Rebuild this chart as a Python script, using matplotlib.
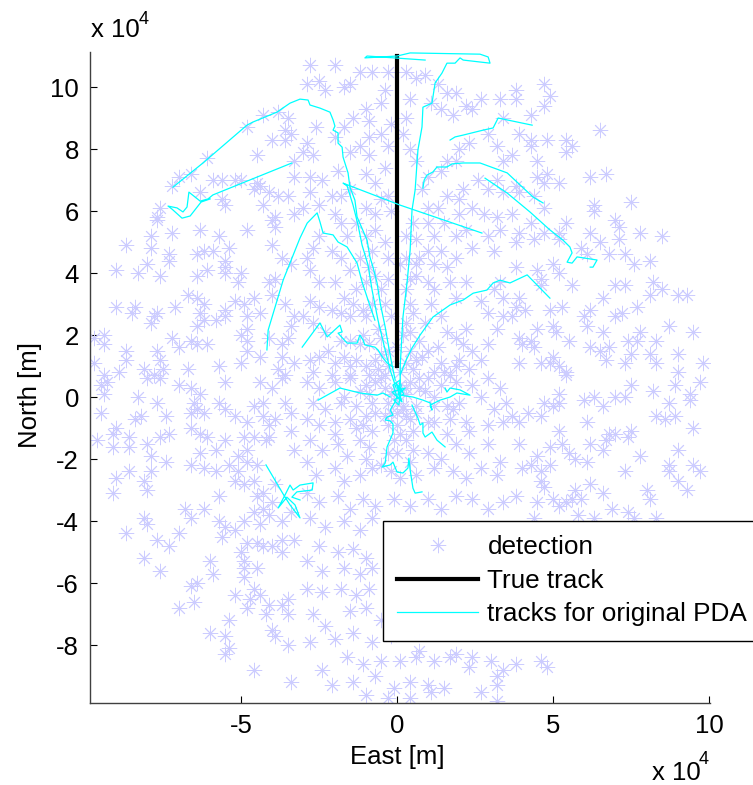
import matplotlib
matplotlib.use('Agg')
import matplotlib.pyplot as plt
from matplotlib.ticker import FixedLocator, FuncFormatter

plt.rcParams['font.family'] = ['Liberation Sans', 'DejaVu Sans']

SCALE = 1e4  # all values below are in units of 10^4 m (east, north)

# detections
det_nw = [(-4.3,9.1),(-3.8,9.2),(-3.5,9.0),(-3.6,8.6),(-4.0,8.3),(-3.6,8.3),(-3.4,8.5),(-4.8,8.7),(-4.5,7.8),(-6.1,7.7),
          (-3.3,7.6),(-3.3,7.1),(-7.0,7.1),(-6.6,7.2),(-7.2,6.8),(-5.9,7.0),(-5.6,7.0),(-5.2,7.0),(-5.0,7.0),(-4.5,6.9),
          (-4.4,6.8),(-4.6,6.7),(-4.1,6.6),(-3.8,6.5),(-3.5,6.5),(-5.6,6.4),(-5.5,6.2),(-6.3,6.6),(-7.6,6.1),(-7.7,5.8),
          (-7.7,5.7),(-3.3,5.9),(-3.9,5.8),(-4.0,5.7),(-3.9,5.5),(-4.3,6.2),(-4.8,5.4),(-6.3,5.4),(-5.7,5.2),(-7.2,5.3),
          (-7.9,5.2),(-8.7,4.9),(-7.9,4.8),(-7.3,4.6),(-7.3,4.4),(-6.4,4.6),(-6.2,4.7),(-5.9,4.7),(-5.4,4.8),(-5.5,4.4),
          (-5.5,4.2),(-5.5,4.0),(-6.1,4.1),(-6.4,3.9),(-5.0,4.0),(-5.1,3.7),(-4.0,4.9),(-3.7,4.5),(-3.4,4.3),(-8.0,4.3),
          (-8.3,4.0),(-9.0,4.1),(-7.6,3.9),(-6.7,3.3),(-6.4,3.2),(-6.2,3.0),(-6.3,2.7),(-6.2,2.5),(-6.4,2.3),(-5.8,2.5),
          (-5.5,2.6),(-5.2,3.1),(-5.5,2.8),(-4.9,3.0),(-4.8,2.6),(-4.6,3.2),(-4.1,3.7),(-3.9,3.8),(-4.0,3.3),(-3.6,3.0),
          (-4.4,2.7),(-4.8,2.2),(-5.0,2.0),(-4.8,1.8),(-3.4,2.3),(-3.5,1.9),(-3.3,2.6),(-4.1,1.9),(-3.7,1.7),(-7.2,1.9),
          (-6.6,1.8),(-6.4,1.7),(-6.1,1.7),(-7.0,1.6),(-7.7,2.7),(-7.8,2.6),(-7.9,2.4),(-8.4,2.9),(-8.5,2.7),(-9.0,2.9),
          (-7.1,2.9),(-9.4,2.0),(-9.4,1.7),(-9.7,1.9),(-8.7,1.5),(-8.7,1.2),(-7.7,1.5),(-7.6,1.2),(-7.5,0.9),(-7.8,0.7),
          (-8.1,0.9),(-8.9,0.8),(-9.4,0.7),(-9.7,1.1),(-6.7,0.9),(-5.7,1.0),(-5.0,1.1),(-4.8,1.5),(-4.4,1.3),(-3.7,1.3),
          (-3.8,0.9),(-3.6,0.7),(-3.3,1.1)]

det_n = [(-2.8,10.7),(-2.0,10.7),(-2.5,10.2),(-2.9,10.1),(-2.3,9.9),(-1.7,10.0),(-1.5,10.1),(-1.2,10.5),(-0.8,10.5),(-0.3,10.5),
         (0.3,10.5),(0.6,10.3),(0.9,10.4),(1.3,10.1),(1.6,9.8),(1.9,9.8),(1.1,9.5),(1.4,9.3),(1.8,9.1),(2.2,9.4),
         (2.4,9.3),(2.7,9.6),(3.3,9.6),(3.4,9.0),(2.9,8.5),(2.3,8.2),(2.0,8.0),(1.6,7.6),(1.4,7.3),(1.9,7.6),
         (3.2,8.1),(3.4,7.6),(3.2,7.0),(3.4,6.6),(2.9,6.7),(2.6,7.0),(2.1,6.7),(2.0,6.4),(1.6,6.5),(1.3,6.1),
         (1.0,6.1),(0.8,6.7),(1.0,7.1),(0.6,7.6),(0.4,8.0),(0.2,8.5),(0.3,9.0),(0.4,9.6),(-0.4,9.9),(-0.5,9.5),
         (-1.0,9.3),(-0.9,8.9),(-1.4,9.0),(-1.7,8.7),(-2.0,8.4),(-2.6,8.7),(-2.9,8.2),(-3.0,7.9),(-2.7,7.8),(-2.8,7.1),
         (-2.4,7.0),(-1.9,7.3),(-1.5,7.9),(-1.2,8.1),(-0.9,7.8),(-1.0,7.2),(-0.7,6.9),(-0.4,7.4),(-0.3,8.1),(-0.5,8.5),
         (-0.9,8.4),(-0.2,8.8),(-1.5,6.7),(-1.8,6.5),(-2.1,6.5),(-2.5,6.2),(-2.8,6.6),(-3.0,6.1),(-2.0,5.9),(-1.8,5.6),
         (-1.6,5.2),(-1.3,5.6),(-1.0,6.1),(-0.7,5.9),(-0.5,6.4),(-0.3,6.5),(-0.2,6.0),(-0.7,5.4),(-1.0,5.2),(-0.4,5.0),
         (-0.3,4.5),(-0.8,4.7),(-1.2,4.5),(-0.9,4.2),(-0.7,3.9),(-0.3,3.8),(-0.5,3.5),(-1.0,3.7),(-1.3,3.5),(-1.5,4.1),
         (-1.8,4.5),(-2.1,4.7),(-2.5,5.2),(-2.7,4.8),(-2.9,4.5),(-2.8,4.1),(-2.5,3.7),(-2.0,3.7),(-1.7,3.2),(-1.4,3.0),
         (-1.1,2.8),(-0.8,3.0),(-0.4,3.0),(-0.2,2.6),(-1.0,2.6),(-1.5,2.6),(-1.8,2.7),(-2.1,2.8),(-2.5,2.9),(-2.8,3.1),
         (-3.0,2.6),(-2.7,2.4),(-2.3,2.1),(-1.8,1.8),(-1.5,1.8),(-1.2,1.7),(-0.9,1.7),(-0.5,1.9),(-0.3,1.5),(-0.7,1.2),
         (-0.3,1.0),(-1.0,1.0),(-1.3,1.2),(-1.7,1.3),(-2.0,1.1),(-2.5,1.3),(-2.8,1.2),(-2.7,0.8),(-2.1,0.7),(-1.5,0.7),
         (-0.9,0.7),(-0.4,0.7),(0.1,0.8),(0.3,1.1),(0.4,1.5),(0.6,1.2),(1.0,1.5),(0.7,1.8),(0.4,2.1),(0.3,2.4),
         (0.5,2.7),(0.4,3.0),(0.3,3.5),(0.4,3.8),(0.6,3.9),(1.0,3.7),(1.2,3.5),(1.1,3.0),(1.4,2.6),(1.6,2.1),
         (1.9,1.9),(2.2,2.2),(2.1,1.7),(2.4,1.5),(2.7,1.2),(2.3,0.9),(1.9,1.0),(1.4,1.1),(1.2,0.8),(1.7,0.7),
         (2.9,1.7),(3.2,2.2),(3.4,2.6),(2.9,2.7),(2.7,3.1),(3.1,3.5),(3.3,3.7),(3.4,3.2),(2.2,3.7),(1.9,3.2),
         (1.7,3.7),(1.6,4.2),(1.9,4.5),(1.4,4.7),(1.2,4.3),(1.0,4.7),(0.6,5.1),(0.3,5.2),(0.5,5.6),(1.0,5.6),
         (1.2,5.2),(1.5,5.6),(1.9,5.2),(2.2,5.4),(2.4,4.8),(2.9,5.2),(3.1,4.7),(3.3,5.4),(3.2,5.8),(2.8,5.9),
         (2.4,6.1),(2.0,5.9),(0.7,4.5),(0.6,4.3),(0.1,4.3),(0.3,4.5)]

det_ne = [(4.7,10.1),(3.8,9.9),(3.8,9.6),(4.9,9.7),(4.7,9.4),(4.3,9.1),(3.9,8.5),(4.3,8.3),(4.3,8.1),(4.8,8.3),
          (5.4,8.3),(5.6,8.1),(5.4,7.9),(6.5,8.6),(3.7,7.8),(4.5,7.6),(4.5,7.1),(4.8,7.2),(5.2,6.9),(4.7,6.9),
          (6.2,7.1),(6.7,7.2),(3.8,6.8),(3.9,6.6),(4.4,6.5),(4.7,6.1),(3.7,5.9),(6.3,6.2),(6.3,6.0),(7.5,6.3),
          (4.3,5.6),(3.9,5.3),(5.4,5.6),(5.2,5.3),(5.2,5.1),(4.7,5.3),(4.4,5.1),(3.8,5.0),(6.2,5.3),(7.0,5.7),
          (7.1,5.5),(7.1,5.1),(7.8,5.3),(8.5,5.2),(6.5,5.0),(5.9,4.8),(6.1,4.6),(6.8,4.6),(7.3,4.6),(7.6,4.3),
          (8.1,4.4),(5.0,4.3),(4.5,4.1),(3.8,4.2),(5.2,4.0),(5.6,3.6),(4.6,3.8),(4.6,3.6),(7.0,3.6),(7.3,3.6),
          (8.2,3.7),(8.5,3.5),(8.1,3.3),(9.0,3.3),(9.3,3.3),(6.6,3.2),(7.7,2.9),(7.0,2.6),(7.2,2.7),(6.2,2.8),
          (6.0,2.6),(6.1,2.3),(5.3,2.9),(4.9,2.8),(3.9,3.2),(3.8,2.9),(4.1,2.8),(3.7,2.6),(5.0,2.3),(5.1,2.1),
          (4.5,2.2),(3.9,1.9),(4.3,1.8),(4.4,1.6),(4.0,1.7),(5.5,1.8),(6.6,2.1),(7.8,2.1),(7.7,1.8),(7.4,1.8),
          (8.3,1.8),(8.7,2.3),(9.5,2.1),(6.2,1.6),(6.5,1.5),(6.8,1.6),(6.7,1.2),(7.3,1.1),(7.5,1.4),(8.1,1.4),
          (8.3,1.1),(9.0,1.4),(9.8,1.1),(9.0,0.8),(3.9,1.1),(4.6,1.1),(5.0,1.3),(5.2,1.0),(5.4,0.8),(4.9,1.1)]

det_sw = [(-9.5,0.4),(-9.3,0.5),(-9.4,0.1),(-9.5,-0.5),(-8.0,0.6),(-7.6,0.6),(-7.0,0.4),(-6.6,0.3),(-6.3,0.1),(-6.5,-0.2),
          (-6.4,-0.4),(-6.6,-0.5),(-6.2,-0.5),(-5.5,0.5),(-5.7,-0.2),(-5.5,-0.4),(-5.2,-0.6),(-4.8,-0.8),(-4.4,0.5),(-4.0,0.3),
          (-3.7,0.6),(-4.3,-0.2),(-4.6,-0.3),(-4.3,-0.6),(-4.1,-0.9),(-3.6,-0.2),(-3.4,-0.5),(-3.9,-0.7),(-8.3,0.0),(-8.2,-0.6),
          (-8.4,-0.7),(-7.7,-0.2),(-7.4,-0.6),(-9.0,-1.0),(-9.1,-1.2),(-8.6,-1.3),(-9.6,-1.4),(-9.1,-1.6),(-8.6,-1.6),(-8.0,-1.5),
          (-7.9,-1.9),(-7.6,-1.3),(-7.3,-1.2),(-6.6,-1.0),(-6.3,-1.2),(-6.1,-1.3),(-5.8,-1.7),(-5.5,-1.4),(-4.9,-1.3),(-4.6,-1.3),
          (-4.2,-1.4),(-4.8,-1.7),(-5.1,-1.9),(-4.8,-2.1),(-4.5,-2.2),(-4.1,-1.3),(-3.4,-1.1),(-3.3,-1.7),(-6.3,-1.8),(-6.6,-2.2),
          (-6.2,-2.3),(-5.8,-2.4),(-5.4,-2.2),(-5.1,-2.4),(-5.2,-2.7),(-4.9,-2.8),(-4.6,-2.7),(-4.3,-3.1),(-3.9,-2.8),(-4.0,-3.4),
          (-4.5,-3.2),(-4.3,-3.6),(-8.6,-2.4),(-7.9,-2.4),(-7.4,-2.1),(-9.0,-2.6),(-8.1,-2.7),(-8.0,-3.0),(-9.1,-3.1),(-5.7,-3.2),
          (-6.8,-3.6),(-6.6,-3.9),(-6.2,-3.6),(-8.1,-3.9),(-8.0,-4.1),(-8.7,-4.4),(-7.7,-4.6),(-7.3,-4.8),(-7.0,-4.4),(-5.7,-4.0),
          (-5.5,-4.2),(-5.6,-4.5),(-5.2,-4.3),(-4.9,-4.0),(-4.6,-3.7),(-4.4,-4.1),(-4.1,-3.8),(-3.7,-4.0),(-3.4,-3.7),(-4.8,-4.7),
          (-4.5,-4.7),(-4.3,-4.8),(-4.0,-4.8),(-3.7,-4.6),(-3.7,-5.0),(-3.3,-4.6),(-8.1,-5.2),(-7.6,-5.6),(-6.0,-5.3),(-5.9,-5.7),
          (-5.0,-5.0),(-4.9,-5.3),(-4.9,-5.5),(-4.5,-5.5),(-4.9,-5.8),(-4.6,-6.2),(-4.4,-6.4),(-4.7,-6.5),(-6.6,-6.1),(-6.4,-6.0),
          (-6.5,-6.6),(-7.0,-6.8),(-5.2,-6.4),(-4.8,-6.8),(-5.4,-7.2),(-6.0,-7.6),(-5.5,-7.7),(-5.4,-8.1),(-5.5,-8.3),(-4.1,-6.7),
          (-4.2,-7.0),(-3.7,-6.7),(-3.5,-6.5),(-3.5,-7.0),(-4.0,-7.5),(-3.9,-7.7),(-3.5,-8.0),(-4.6,-8.8),(-3.4,-9.2)]

det_s = [(-2.9,0.5),(-2.5,0.3),(-2.0,0.5),(-1.5,0.6),(-1.0,0.4),(-0.5,0.6),(0.4,0.5),(1.0,0.6),(1.4,0.4),(1.9,0.5),
         (2.4,0.4),(2.9,0.6),(3.3,0.3),(-2.7,-0.2),(-2.3,-0.4),(-1.7,0.0),(-1.3,-0.3),(-0.9,0.1),(-0.7,-0.5),(-0.3,-0.2),
         (0.3,0.1),(0.6,-0.3),(1.2,0.0),(1.6,-0.3),(2.0,-0.2),(2.7,0.0),(3.1,-0.4),(3.5,-0.2),(-2.9,-0.7),(-2.5,-0.9),
         (-2.0,-0.8),(-1.5,-0.7),(-1.1,-0.9),(-0.8,-1.1),(0.0,-0.9),(0.3,-0.6),(0.5,-1.1),(1.2,-0.8),(1.7,-0.7),(2.2,-0.8),
         (2.9,-0.9),(3.4,-0.8),(-2.8,-1.4),(-2.4,-1.7),(-1.9,-1.5),(-1.6,-1.9),(-1.2,-1.4),(-1.0,-2.0),(0.0,-1.8),(0.3,-1.4),
         (1.0,-1.8),(1.4,-2.0),(1.9,-1.5),(2.3,-1.8),(2.9,-1.5),(3.3,-2.1),(-2.9,-2.1),(-2.6,-2.5),(-2.0,-2.3),(-1.7,-2.7),
         (-1.2,-2.5),(-0.8,-2.3),(-0.2,-2.4),(0.1,-2.6),(0.6,-2.5),(1.2,-2.3),(1.8,-2.4),(2.2,-2.6),(2.7,-2.3),(3.2,-2.5),
         (-2.9,-3.1),(-2.5,-3.4),(-1.9,-3.2),(-1.5,-3.6),(-1.1,-3.3),(-0.7,-3.5),(-0.1,-3.3),(0.4,-3.5),(1.0,-3.3),(1.4,-3.6),
         (1.9,-3.2),(2.4,-3.3),(2.9,-3.6),(3.4,-3.4),(-2.8,-3.9),(-2.3,-4.2),(-1.7,-4.0),(-1.2,-4.3),(-0.8,-3.9),(-2.5,-4.8),
         (-1.9,-5.0),(-1.4,-4.9),(-1.0,-5.2),(-2.9,-5.3),(-2.4,-5.6),(-1.7,-5.5),(-1.2,-5.7),(-0.8,-5.5),(-2.9,-6.2),(-2.4,-6.3),
         (-1.8,-6.2),(-1.3,-6.4),(-0.9,-6.2),(-2.7,-7.0),(-2.3,-7.4),(-1.5,-6.9),(-1.0,-6.8),(-0.5,-7.2),(-2.8,-7.9),(-2.0,-7.8),
         (-1.4,-7.6),(-0.8,-7.9),(-0.2,-7.7),(-2.4,-8.8),(-1.6,-8.4),(-1.1,-8.6),(-0.5,-8.5),(0.1,-8.5),(0.6,-8.4),(1.2,-8.5),
         (1.7,-8.4),(2.4,-8.4),(3.2,-9.0),(-2.1,-9.3),(-1.4,-9.2),(-0.7,-9.0),(-0.1,-9.4),(0.4,-9.2),(1.0,-9.3),(1.5,-9.4),
         (-1.0,-9.6),(-0.3,-9.7),(0.4,-9.7),(3.2,-9.3),(3.4,-8.8),(0.7,-8.2),(1.9,-8.3),(2.3,-8.7),(3.0,-8.5),(3.8,-8.6),
         (4.6,-8.5),(4.8,-8.7),(1.1,-9.5),(2.7,-9.5),(3.2,-9.8)]

det_se = [(5.4,0.7),(7.5,0.4),(8.9,0.4),(9.7,0.5),(5.2,0.1),(4.7,-0.2),(6.0,-0.1),(6.3,0.0),(6.6,-0.3),(7.0,0.0),
          (7.3,0.0),(8.2,0.2),(8.7,-0.2),(9.4,0.1),(9.4,-0.1),(3.7,-0.6),(4.2,-0.5),(4.6,-0.6),(5.0,-0.3),(5.2,-0.2),
          (3.9,-0.8),(8.3,-0.6),(8.6,-0.7),(8.9,-0.6),(6.1,-0.8),(5.2,-1.1),(9.5,-1.0),(6.8,-1.2),(7.0,-1.2),(7.5,-1.1),
          (7.4,-1.3),(3.9,-1.5),(4.9,-1.6),(5.3,-1.5),(5.5,-1.8),(5.7,-2.0),(6.2,-1.5),(6.6,-1.7),(6.7,-1.4),(7.8,-1.9),
          (9.0,-1.7),(4.5,-1.9),(4.0,-2.3),(4.3,-2.2),(4.9,-2.2),(4.6,-2.4),(6.1,-2.1),(7.3,-2.4),(8.7,-2.2),(8.7,-2.4),
          (9.5,-2.2),(9.7,-2.4),(9.0,-2.7),(9.3,-3.0),(4.6,-2.7),(4.7,-2.9),(6.2,-2.8),(5.7,-3.0),(5.6,-3.3),(5.4,-3.4),
          (4.5,-3.4),(3.8,-3.2),(5.0,-3.3),(5.2,-3.5),(5.9,-3.3),(6.6,-3.1),(8.0,-3.0),(8.1,-3.3),(5.8,-3.8),(6.9,-3.6),
          (7.4,-3.7),(7.6,-3.9),(4.4,-3.9),(6.3,-3.9),(8.3,-3.9)]

det_core = [(-0.4,0.3),(-0.1,0.2),(0.1,0.4),(0.2,-0.3),(-0.2,-0.5),(0.7,0.3),(0.0,-0.2),(-0.4,-0.6),(0.4,-0.7),(0.1,-1.2),
            (-0.1,-1.4),(-0.3,-1.8),(-0.5,-2.2),(0.4,-2.1),(-1.2,0.2),(-0.8,-0.2),(-0.6,0.9),(0.5,0.9),(0.9,0.2),(1.2,-0.3),
            (0.6,-0.5),(-0.3,-0.9),(0.2,-0.4),(-1.0,-0.6),(1.5,0.8),(-1.5,1.0),(0.8,1.3),(-0.5,1.4),(0.0,1.6),(0.3,0.3),
            (-0.2,0.1),(0.0,-0.5),(-0.7,0.5),(0.7,0.6),(1.0,-0.8),(-1.3,-1.0),(1.8,-0.4),(-1.8,-0.2),(2.0,1.2),(-2.2,1.5),
            (2.3,-1.1),(-2.0,-1.2),(0.2,2.0),(-0.6,2.2),(0.9,2.4),(1.3,1.6),(-1.1,2.0),(1.6,-1.2),(-0.9,-1.6),(0.5,-1.7)]

# true target track
true_east = [0.0, 0.0]
true_north = [1.0, 11.0]

# tracks produced by the original PDA
trk_top = [(0.10,0.39),(0.10,0.97),(0.19,2.58),(0.32,3.68),(0.42,4.74),(0.48,6.03),(0.58,6.68),(0.64,7.55),(0.67,7.97),
           (0.80,8.71),(0.83,9.35),(1.12,9.48),(1.22,10.13),(1.44,10.45),(1.60,10.77),(1.86,10.77),(2.02,10.94),
           (2.12,10.87),(2.98,10.77),(2.92,10.97),(2.66,11.06),(0.42,11.1),(0.0,11.0),(-1.03,10.94),(-0.96,11.0),(0.90,10.87)]
trk_nw = [(-7.18,6.77),(-6.22,7.55),(-4.81,8.77),(-4.62,8.87),(-3.85,9.19),(-3.43,9.48),(-3.11,9.61),(-2.85,9.58),
          (-2.79,9.42),(-2.47,9.32),(-2.15,9.19),(-2.05,8.94),(-1.99,8.74),(-2.05,8.61),(-1.89,8.52),(-1.89,8.19),
          (-1.76,8.06),(-1.73,7.74),(-1.57,7.23),(-1.51,6.77),(-1.35,6.35),(-1.28,5.81),(-0.96,5.06),(-0.87,4.52),
          (-0.77,4.19),(-0.64,3.68),(-0.54,3.03),(-0.38,2.26),(-0.29,1.74),(-0.16,1.03),(-0.06,0.55)]
trk_cross = [(2.72,5.29),(0.10,6.19),(-1.73,6.90),(-1.60,6.81),(-1.41,6.19),(-1.25,5.55),(-1.12,4.90),(-0.93,4.26),
             (-0.80,3.45),(-0.61,2.48),(-0.42,1.68),(-0.22,0.87),(-0.03,0.29)]
trk_far_w = [(-3.37,7.55),(-5.90,6.52),(-6.06,6.39),(-6.31,6.32),(-6.67,6.61),(-6.73,6.13),(-6.86,5.97),(-7.05,6.10),
             (-7.34,6.16),(-7.21,6.06),(-6.89,5.77),(-6.63,5.84),(-6.28,6.29),(-5.99,6.39)]
trk_w = [(-4.17,1.52),(-4.13,2.16),(-3.65,3.77),(-3.11,5.13),(-2.88,5.61),(-2.56,5.94),(-2.47,5.65),(-2.37,5.29),
         (-2.05,5.23),(-1.89,5.00),(-1.60,4.84),(-1.28,4.32),(-1.12,3.71),(-0.93,3.13),(-0.71,2.48)]
trk_w_near = [(-3.04,1.61),(-2.47,2.39),(-2.24,1.94),(-1.83,2.32),(-1.76,2.10),(-1.89,2.06),(-1.60,1.74),(-1.28,1.74),
              (-1.19,2.00),(-1.09,1.84),(-1.03,1.68),(-0.71,1.61),(-0.61,1.52),(-0.45,1.26),(-0.32,1.10),(-0.13,0.97)]
trk_ne_low = [(0.10,0.71),(0.29,1.19),(0.48,1.58),(0.74,2.00),(1.15,2.58),(1.70,2.97),(2.12,3.13),(2.44,3.35),
              (2.88,3.45),(3.08,3.68),(3.30,3.77),(3.62,3.68),(4.17,3.94),(4.90,3.19)]
trk_ne_a = [(0.83,6.74),(0.87,7.00),(0.96,7.16),(1.15,7.26),(1.28,7.42),(1.60,7.42),(1.76,7.52),(2.12,7.55),
            (2.66,7.55),(3.53,7.23),(4.36,6.45),(4.68,6.26)]
trk_ne_b = [(2.82,7.06),(3.53,6.58),(4.26,5.97),(4.90,5.39),(5.32,5.06),(5.54,4.84),(5.61,4.65),(5.45,4.35),
            (5.61,4.32),(5.77,4.52),(6.41,4.42),(6.28,4.19),(6.19,4.19)]
trk_ne_up = [(1.70,8.29),(1.86,8.39),(2.12,8.45),(2.76,8.61),(3.08,8.68),(3.24,9.00),(4.33,8.77)]
trk_south = [(-0.03,-0.10),(-0.22,-0.42),(-0.13,-0.58),(-0.32,-0.65),(-0.38,-0.74),(-0.22,-0.77),(-0.13,-0.87),
             (-0.13,-1.16),(-0.32,-1.61),(-0.38,-2.13),(-0.48,-2.26),(-0.22,-2.19),(-0.13,-2.10),(0.00,-2.42),
             (0.19,-2.45),(0.35,-2.29),(0.38,-1.97),(0.42,-2.35),(0.51,-2.94),(0.58,-3.10),(0.80,-3.06)]
trk_se = [(0.48,-0.26),(0.67,-0.68),(0.74,-0.90),(0.83,-0.84),(0.83,-1.16),(0.90,-1.29),(1.12,-1.13),(1.28,-1.39),(1.54,-1.61)]
trk_w_center = [(-2.53,-0.10),(-1.83,0.29),(-1.19,0.13),(-0.64,0.06),(-0.45,0.13),(-0.22,0.00)]
trk_e_center = [(0.10,0.06),(0.51,0.00),(0.83,-0.10),(1.06,-0.19),(1.12,-0.42),(1.06,-0.26),(1.38,-0.10),(1.70,0.00),
                (1.92,0.13),(2.34,0.06),(2.02,0.23),(1.70,0.29),(1.60,0.16),(1.54,0.29)]
trk_tangle = [(0.0,0.0),(-0.13,0.39),(0.10,0.55),(0.03,0.06),(0.26,0.29),(-0.16,0.16),(0.16,-0.16),(-0.03,0.45),
              (0.22,0.10),(-0.10,-0.10),(0.06,-0.26),(0.13,0.39)]
trk_sw = [(-4.20,-2.19),(-3.65,-3.13),(-3.43,-3.48),(-3.11,-3.90),(-3.27,-3.48),(-3.53,-3.23),(-3.81,-3.58),(-3.59,-3.16),
          (-3.43,-2.84),(-3.33,-3.00),(-3.11,-2.84),(-2.69,-2.77),(-2.72,-3.00),(-3.21,-3.06),(-3.37,-3.23),(-3.11,-3.32)]

pda_tracks = [trk_top, trk_nw, trk_cross, trk_far_w, trk_w, trk_w_near, trk_ne_low, trk_ne_a, trk_ne_b,
              trk_ne_up, trk_south, trk_se, trk_w_center, trk_e_center, trk_tangle, trk_sw]

detections = det_nw + det_n + det_ne + det_sw + det_s + det_se + det_core

fig = plt.figure(figsize=(7.53, 7.85), dpi=100)
ax = fig.add_axes([90/753, 82/785, 620/753, 651/785])

det_e = [p[0] * SCALE for p in detections]
det_nn = [p[1] * SCALE for p in detections]
h_det, = ax.plot(det_e, det_nn, linestyle='none', marker=(8, 2, 0), markersize=11,
                 markeredgewidth=0.65, color='#ccccff', label='detection')
h_true, = ax.plot([v * SCALE for v in true_east], [v * SCALE for v in true_north],
                  color='black', linewidth=3, label='True track')
h_trk = None
for trk in pda_tracks:
    h, = ax.plot([p[0] * SCALE for p in trk], [p[1] * SCALE for p in trk],
                 color='#00ffff', linewidth=0.9)
    if h_trk is None:
        h_trk = h

ax.set_xlim(-9.84 * SCALE, 10.03 * SCALE)
ax.set_ylim(-9.87 * SCALE, 11.13 * SCALE)

ax.xaxis.set_major_locator(FixedLocator([-5 * SCALE, 0, 5 * SCALE, 10 * SCALE]))
ax.yaxis.set_major_locator(FixedLocator([v * SCALE for v in range(-8, 11, 2)]))
fmt = FuncFormatter(lambda v, p: '%d' % round(v / SCALE))
ax.xaxis.set_major_formatter(fmt)
ax.yaxis.set_major_formatter(fmt)
ax.tick_params(direction='in', length=5, width=0.8, labelsize=18.5, pad=8)

for side in ['top', 'right']:
    ax.spines[side].set_visible(False)
for side in ['left', 'bottom']:
    ax.spines[side].set_color('#404040')
    ax.spines[side].set_linewidth(1.0)

ax.set_xlabel('East [m]', fontsize=18.5, va='center')
ax.xaxis.set_label_coords((397 - 90) / 620, -0.083)
ax.set_ylabel('North [m]', fontsize=18.5, va='center')
ax.yaxis.set_label_coords(-0.097, (703 - 395) / 651)

# scale factor labels like MATLAB
fig.text(91/753, 1 - 37/785, 'x 10', fontsize=18.5, ha='left', va='baseline')
fig.text(139/753, 1 - 24/785, '4', fontsize=13, ha='left', va='baseline')
fig.text(652/753, 1 - 780/785, 'x 10', fontsize=18.5, ha='left', va='baseline')
fig.text(699/753, 1 - 764/785, '4', fontsize=13, ha='left', va='baseline')

leg = ax.legend([h_det, h_true, h_trk], ['detection', 'True track', 'tracks for original PDA'],
                loc='upper left', bbox_to_anchor=(383/753, 1 - 521/785), bbox_transform=fig.transFigure,
                fancybox=False, framealpha=1, edgecolor='black', borderpad=0.55, borderaxespad=0,
                handlelength=3.1, handletextpad=0.35, labelspacing=0.36, numpoints=1, fontsize=18.8)
leg.get_frame().set_linewidth(1.0)

fig.savefig('out.png', dpi=100)
